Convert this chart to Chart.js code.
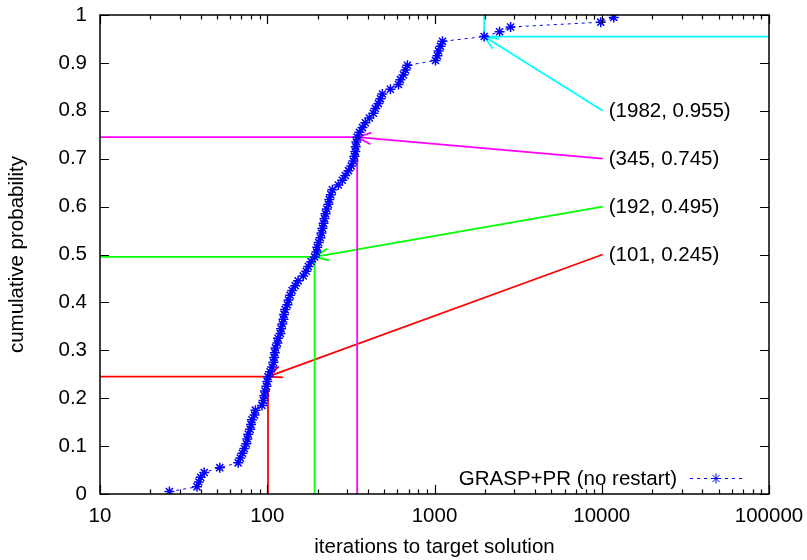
<!DOCTYPE html>
<html>
<head>
<meta charset="utf-8">
<script src="https://cdn.jsdelivr.net/npm/chart.js@4/dist/chart.umd.min.js"></script>
<style>
  html, body { margin: 0; padding: 0; background: #ffffff; }
  #wrap { width: 807px; height: 560px; position: relative; }
</style>
</head>
<body>
<div id="wrap"><canvas id="ttt"></canvas></div>
<script>
// Sorted iteration counts needed to reach the target solution (100 runs)
const iterations = [
  26, 38, 39, 40, 42, 52, 67, 69, 71, 73,
  75, 76, 77, 79, 80, 81, 84, 85, 93, 95,
  96, 97, 99, 100, 101, 104, 107, 109, 110, 111,
  112, 115, 116, 120, 121, 123, 125, 126, 128, 132,
  134, 137, 141, 147, 153, 164, 171, 176, 183, 192,
  197, 199, 203, 208, 211, 214, 217, 220, 223, 227,
  232, 235, 240, 245, 266, 281, 293, 306, 318, 327,
  332, 336, 338, 341, 345, 356, 371, 386, 408, 431,
  443, 462, 475, 488, 545, 609, 626, 652, 671, 689,
  1014, 1042, 1057, 1086, 1116, 1982, 2450, 2851, 9863, 11800
];

// Empirical cumulative probability of each sorted run
const cumulativeProbability = [
  0.005, 0.015, 0.025, 0.035, 0.045, 0.055, 0.065, 0.075, 0.085, 0.095,
  0.105, 0.115, 0.125, 0.135, 0.145, 0.155, 0.165, 0.175, 0.185, 0.195,
  0.205, 0.215, 0.225, 0.235, 0.245, 0.255, 0.265, 0.275, 0.285, 0.295,
  0.305, 0.315, 0.325, 0.335, 0.345, 0.355, 0.365, 0.375, 0.385, 0.395,
  0.405, 0.415, 0.425, 0.435, 0.445, 0.455, 0.465, 0.475, 0.485, 0.495,
  0.505, 0.515, 0.525, 0.535, 0.545, 0.555, 0.565, 0.575, 0.585, 0.595,
  0.605, 0.615, 0.625, 0.635, 0.645, 0.655, 0.665, 0.675, 0.685, 0.695,
  0.705, 0.715, 0.725, 0.735, 0.745, 0.755, 0.765, 0.775, 0.785, 0.795,
  0.805, 0.815, 0.825, 0.835, 0.845, 0.855, 0.865, 0.875, 0.885, 0.895,
  0.905, 0.915, 0.925, 0.935, 0.945, 0.955, 0.965, 0.975, 0.985, 0.995
];

// Quantiles highlighted on the plot
const markedIterations = [101, 192, 345, 1982];
const markedProbability = [0.245, 0.495, 0.745, 0.955];

// Axis tick labels
const xTickValues = [10, 100, 1000, 10000, 100000];
const yTickValues = [0, 0.1, 0.2, 0.3, 0.4, 0.5, 0.6, 0.7, 0.8, 0.9, 1];

const seriesName = 'GRASP+PR (no restart)';
const FONT = '"Liberation Sans", Arial, Helvetica, sans-serif';
const FONT_SIZE = 20.5;

const points = iterations.map((v, i) => ({ x: v, y: cumulativeProbability[i] }));

// Styling for each highlighted quantile: colour, which corner the guide
// lines run to, and where the callout label sits (data coordinates)
const calloutStyle = [
  { color: '#ff0000', toward: 'low',  labelAt: { x: 10000, y: 0.5 } },
  { color: '#00ff00', toward: 'low',  labelAt: { x: 10000, y: 0.6 } },
  { color: '#ff00ff', toward: 'low',  labelAt: { x: 10000, y: 0.7 } },
  { color: '#00ffff', toward: 'high', labelAt: { x: 10000, y: 0.8 } }
];

function drawArrowHead(ctx, fx, fy, tx, ty, len, ang) {
  const a = Math.atan2(ty - fy, tx - fx);
  ctx.beginPath();
  ctx.moveTo(tx - len * Math.cos(a - ang), ty - len * Math.sin(a - ang));
  ctx.lineTo(tx, ty);
  ctx.lineTo(tx - len * Math.cos(a + ang), ty - len * Math.sin(a + ang));
  ctx.stroke();
}

// keep the plot frame where the layout padding puts it
function noOverflowPadding(s) {
  s.paddingTop = 0; s.paddingBottom = 0; s.paddingLeft = 0; s.paddingRight = 0;
}

const calloutPlugin = {
  id: 'callouts',
  beforeDatasetsDraw(chart) {
    const { ctx, scales: { x, y } } = chart;
    ctx.save();
    ctx.lineWidth = 1.8;
    ctx.lineCap = 'butt';
    markedIterations.forEach((mx, i) => {
      const st = calloutStyle[i];
      const px = x.getPixelForValue(mx);
      const py = y.getPixelForValue(markedProbability[i]);
      ctx.strokeStyle = st.color;
      ctx.beginPath();
      if (st.toward === 'low') {
        ctx.moveTo(x.getPixelForValue(x.min), py);
        ctx.lineTo(px, py);
        ctx.moveTo(px, py);
        ctx.lineTo(px, y.getPixelForValue(y.min));
      } else {
        ctx.moveTo(px, py);
        ctx.lineTo(x.getPixelForValue(x.max), py);
        ctx.moveTo(px, py);
        ctx.lineTo(px, y.getPixelForValue(y.max));
      }
      ctx.stroke();
      // arrow from the callout label to the marked point
      const lx = x.getPixelForValue(st.labelAt.x) + 1;
      const ly = y.getPixelForValue(st.labelAt.y);
      ctx.beginPath();
      ctx.moveTo(lx, ly);
      ctx.lineTo(px, py);
      ctx.stroke();
      drawArrowHead(ctx, lx, ly, px, py, 15, 0.4);
      ctx.fillStyle = '#000000';
      ctx.font = FONT_SIZE + 'px ' + FONT;
      ctx.textAlign = 'left';
      ctx.textBaseline = 'middle';
      ctx.fillText('(' + mx + ', ' + markedProbability[i] + ')', lx + 6, ly + 1);
    });
    ctx.restore();
  }
};

const framePlugin = {
  id: 'frame',
  afterDraw(chart) {
    const { ctx, chartArea: ca, scales: { x, y } } = chart;
    ctx.save();
    ctx.strokeStyle = '#000000';
    ctx.lineWidth = 1.2;
    ctx.beginPath();
    // log-scale ticks on bottom and top, pointing inward
    for (let d = 10; d < 100000; d *= 10) {
      for (let m = 1; m <= 10; m++) {
        const v = d * m;
        if (v > 100000) break;
        const px = Math.round(x.getPixelForValue(v)) + 0.5;
        const len = (m === 1 || m === 10) ? 9 : 4.5;
        ctx.moveTo(px, ca.bottom); ctx.lineTo(px, ca.bottom - len);
        ctx.moveTo(px, ca.top); ctx.lineTo(px, ca.top + len);
      }
    }
    yTickValues.forEach(v => {
      const py = Math.round(y.getPixelForValue(v)) + 0.5;
      ctx.moveTo(ca.left, py); ctx.lineTo(ca.left + 9, py);
      ctx.moveTo(ca.right, py); ctx.lineTo(ca.right - 9, py);
    });
    ctx.stroke();
    ctx.lineWidth = 1.5;
    ctx.strokeRect(ca.left, ca.top, ca.right - ca.left, ca.bottom - ca.top);

    // key in the lower right corner
    const ds = chart.data.datasets[0];
    const ky = ca.bottom - 16;
    const kx0 = ca.right - 79, kx1 = ca.right - 27;
    ctx.fillStyle = '#000000';
    ctx.font = FONT_SIZE + 'px ' + FONT;
    ctx.textAlign = 'right';
    ctx.textBaseline = 'middle';
    ctx.fillText(seriesName, kx0 - 13, ky + 1);
    ctx.strokeStyle = ds.borderColor;
    ctx.lineWidth = ds.borderWidth;
    ctx.setLineDash(ds.borderDash);
    ctx.beginPath();
    ctx.moveTo(kx0, ky + 0.5); ctx.lineTo(kx1, ky + 0.5);
    ctx.stroke();
    ctx.setLineDash([]);
    ctx.strokeStyle = ds.pointBorderColor;
    Chart.helpers.drawPoint(ctx, {
      pointStyle: 'star', radius: ds.pointRadius, borderWidth: ds.pointBorderWidth, rotation: 0
    }, (kx0 + kx1) / 2, ky + 0.5);
    ctx.restore();
  }
};

new Chart(document.getElementById('ttt'), {
  type: 'scatter',
  data: {
    datasets: [{
      label: seriesName,
      data: points,
      showLine: true,
      borderColor: '#0000ff',
      borderWidth: 1,
      borderDash: [3, 4],
      pointStyle: 'star',
      pointRadius: 5,
      pointBorderWidth: 1.5,
      pointBorderColor: '#0000ff',
      pointBackgroundColor: '#0000ff',
      pointHoverRadius: 5
    }]
  },
  options: {
    responsive: true,
    maintainAspectRatio: false,
    animation: false,
    events: [],
    layout: { padding: { top: 15, right: 38, left: 0, bottom: 0 } },
    plugins: { legend: { display: false }, tooltip: { enabled: false } },
    scales: {
      x: {
        type: 'logarithmic',
        min: 10,
        max: 100000,
        grid: { display: false, drawTicks: false },
        border: { display: false },
        afterBuildTicks: s => { s.ticks = xTickValues.map(v => ({ value: v })); },
        afterFit: s => { s.height = 66; noOverflowPadding(s); },
        ticks: {
          autoSkip: false,
          maxRotation: 0,
          padding: 10,
          color: '#000000',
          font: { family: FONT, size: FONT_SIZE },
          callback: v => String(v)
        },
        title: {
          display: true,
          text: 'iterations to target solution',
          color: '#000000',
          font: { family: FONT, size: FONT_SIZE },
          padding: { top: 0, bottom: 0 }
        }
      },
      y: {
        min: 0,
        max: 1,
        grid: { display: false, drawTicks: false },
        border: { display: false },
        afterBuildTicks: s => { s.ticks = yTickValues.map(v => ({ value: v })); },
        afterFit: s => { s.width = 100; noOverflowPadding(s); },
        ticks: {
          padding: 13,
          color: '#000000',
          font: { family: FONT, size: FONT_SIZE },
          callback: v => String(v)
        },
        title: {
          display: true,
          text: 'cumulative probability',
          color: '#000000',
          font: { family: FONT, size: FONT_SIZE },
          padding: { top: 5, bottom: 0 }
        }
      }
    }
  },
  plugins: [calloutPlugin, framePlugin]
});
</script>
</body>
</html>
